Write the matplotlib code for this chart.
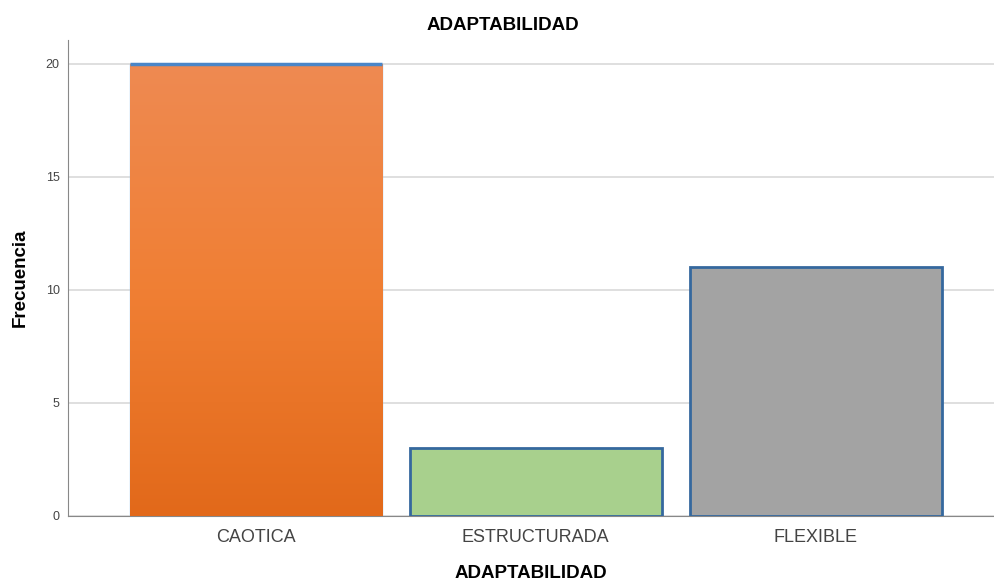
import numpy as np
import matplotlib.pyplot as plt
from matplotlib.colors import LinearSegmentedColormap

plt.rcParams['font.family'] = ['Liberation Sans', 'DejaVu Sans']

categories = ["CAOTICA", "ESTRUCTURADA", "FLEXIBLE"]
counts = [20, 3, 11]
yticks = [0, 5, 10, 15, 20]

fig = plt.figure(figsize=(9.95, 5.84), dpi=100)
ax = fig.add_axes([68 / 995, 68 / 584, 1 - 68 / 995, 476 / 584])

x = np.arange(len(categories))
width = 0.9
bars = ax.bar(x, counts, width=width, zorder=3)

# orange bar: vertical gradient
cmap = LinearSegmentedColormap.from_list("org", ["#e2691a", "#f07f34", "#ee8a52"])
grad = np.linspace(0, 1, 256).reshape(-1, 1)
b0 = bars[0]
im = ax.imshow(grad, cmap=cmap, origin="lower", aspect="auto",
               extent=[b0.get_x(), b0.get_x() + width, 0, counts[0]], zorder=3)
im.set_clip_path(b0)
b0.set_facecolor("none")
b0.set_edgecolor("#9cc8f0")
b0.set_linewidth(1)
ax.plot([b0.get_x(), b0.get_x() + width], [counts[0], counts[0]],
        color="#4a86c8", lw=2.5, zorder=4, solid_capstyle="butt")

bars[1].set_facecolor("#a8d08d")
bars[2].set_facecolor("#a3a3a3")
for b in bars[1:]:
    b.set_edgecolor("#35689e")
    b.set_linewidth(2)

ax.set_xlim(-0.67, 2.64)
ax.set_ylim(0, 21.05)
ax.set_yticks(yticks)
ax.set_xticks(x)
ax.set_xticklabels(categories, fontsize=13, color="#444444")
ax.tick_params(axis="y", labelsize=9, colors="#444444", length=0, pad=6)
ax.tick_params(axis="x", length=0, pad=9)
ax.yaxis.grid(True, color="#d9d9d9", lw=1.2, zorder=0)

for s in ["top", "right"]:
    ax.spines[s].set_visible(False)
ax.spines["left"].set_color("#888888")
ax.spines["bottom"].set_color("#888888")

fig.text(503 / 995, 1 - 26 / 584, "ADAPTABILIDAD", fontsize=13.5,
         fontweight="bold", ha="center", va="center")
fig.text(531 / 995, 1 - 574 / 584, "ADAPTABILIDAD", fontsize=13.5,
         fontweight="bold", ha="center", va="center")
fig.text(20 / 995, 1 - 278 / 584, "Frecuencia", fontsize=13.5,
         fontweight="bold", ha="center", va="center", rotation=90)

fig.savefig("out.png", dpi=100)
